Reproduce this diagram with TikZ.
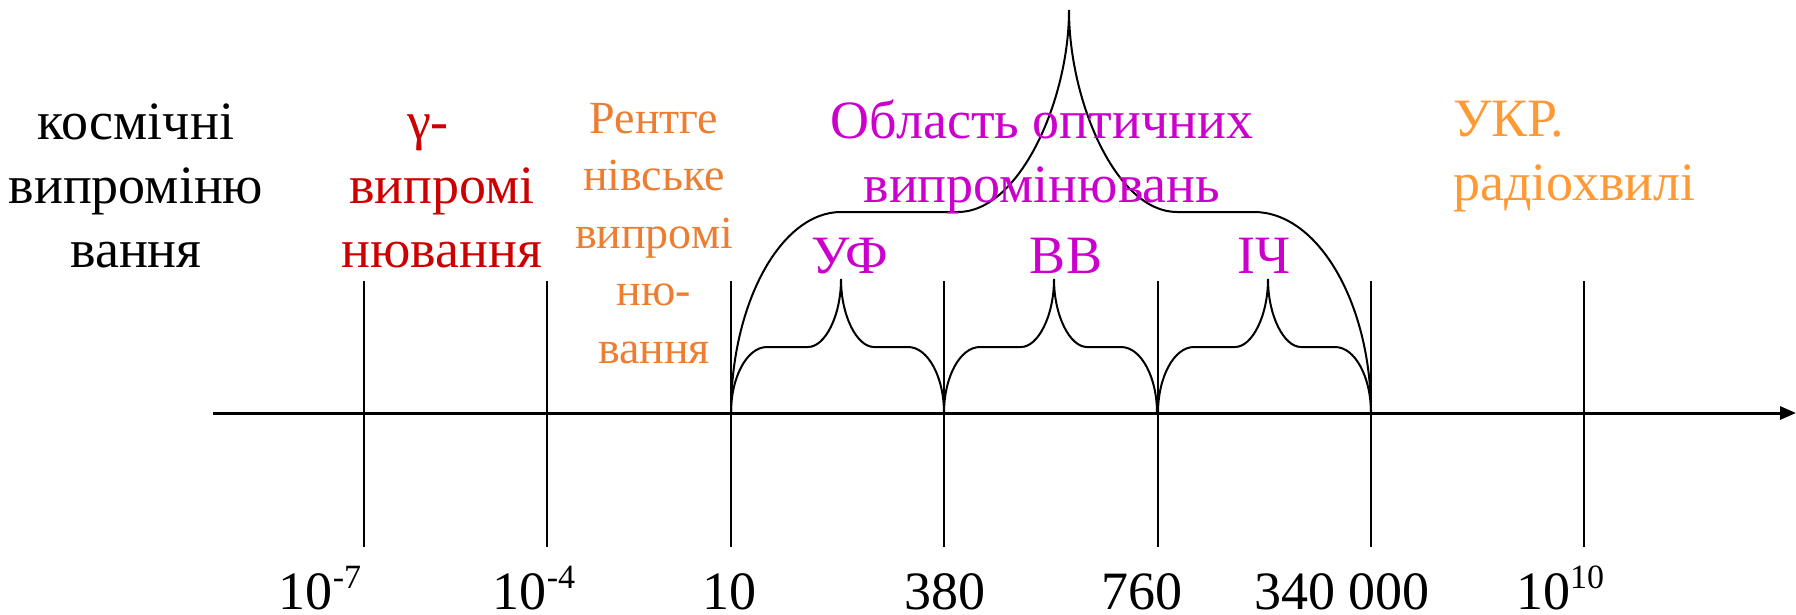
\documentclass[tikz,border=0pt]{standalone}
\usepackage{fontspec}
\setmainfont{Liberation Serif}
\usetikzlibrary{arrows.meta}
\definecolor{cred}{RGB}{204,0,0}
\definecolor{corange}{RGB}{237,125,49}
\definecolor{cmag}{RGB}{204,0,204}
\definecolor{clight}{RGB}{255,153,51}
\newcommand{\supnum}[1]{\raisebox{21pt}{\fontsize{34}{40}\selectfont #1}}
\begin{document}
\begin{tikzpicture}[x=1pt,y=-1pt,
  axisline/.style={line width=3pt,-{Triangle[length=16pt,width=13pt]}},
  tickline/.style={line width=2pt},
  braceline/.style={line width=2pt},
  lbl/.style={inner sep=0pt,anchor=base,align=center,font=\fontsize{54}{64}\selectfont},
  small/.style={inner sep=0pt,anchor=base,align=center,font=\fontsize{46}{57.5}\selectfont},
  num/.style={inner sep=0pt,anchor=base,font=\fontsize{54}{64}\selectfont}]
\useasboundingbox (0,0) rectangle (1796,614);
% axis
\coordinate (a0) at (213,413);
\coordinate (a1) at (1796,413);
\draw[axisline] (a0) -- (a1);
% ticks
\foreach \x [count=\i] in {364,547,731,944,1158,1371,1584} {
  \coordinate (t\i) at (\x,281);
  \coordinate (b\i) at (\x,547);
  \draw[tickline] (t\i) -- (b\i);
}
% small braces
\foreach \x in {731,944,1158} {
  \draw[braceline] (\x,413) .. controls (\x,377) and (\x+16,347) .. (\x+36,347)
    -- (\x+77,347) .. controls (\x+94,347) and (\x+110,316) .. (\x+110,279)
    .. controls (\x+110,316) and (\x+126,347) .. (\x+143,347)
    -- (\x+177,347) .. controls (\x+197,347) and (\x+213,377) .. (\x+213,413);
}
% big brace
\draw[braceline] (731,413) .. controls (731,303) and (781,212) .. (841,212)
  -- (958,212) .. controls (1019,212) and (1069,101) .. (1069,10)
  .. controls (1069,101) and (1116,212) .. (1177,212)
  -- (1254,212) .. controls (1318,212) and (1371,303) .. (1371,413);
% labels (anchor base = baseline of the last line)
\node[lbl] (cosm) at (136,267) {космічні\\випроміню\\вання};
\node[lbl,text=cred] (gam) at (442,267) {γ-\kern28pt\\випромі\\нювання};
\node[small,text=corange] (xray) at (654,363) {Рентге\\нівське\\випромі\\ню-\\вання};
\node[lbl,text=cmag] (opt) at (1042,202) {Область оптичних\\випромінювань};
\node[lbl,text=cmag] (uv) at (850,273) {УФ};
\node[lbl,text=cmag] (vis) at (1066,273) {ВВ};
\node[lbl,text=cmag] (ir) at (1264,273) {ІЧ};
\node[lbl,text=clight,anchor=base west,align=left] (radio) at (1453,200) {УКР.\\радіохвилі};
% numbers
\node[num] (n1) at (320,609) {10\supnum{-7}};
\node[num] (n2) at (534,609) {10\supnum{-4}};
\node[num] (n3) at (729,609) {10};
\node[num] (n4) at (945,609) {380};
\node[num] (n5) at (1142,609) {760};
\node[num] (n6) at (1342,609) {340 000};
\node[num] (n7) at (1560,609) {10\supnum{10}};
\end{tikzpicture}
\end{document}
